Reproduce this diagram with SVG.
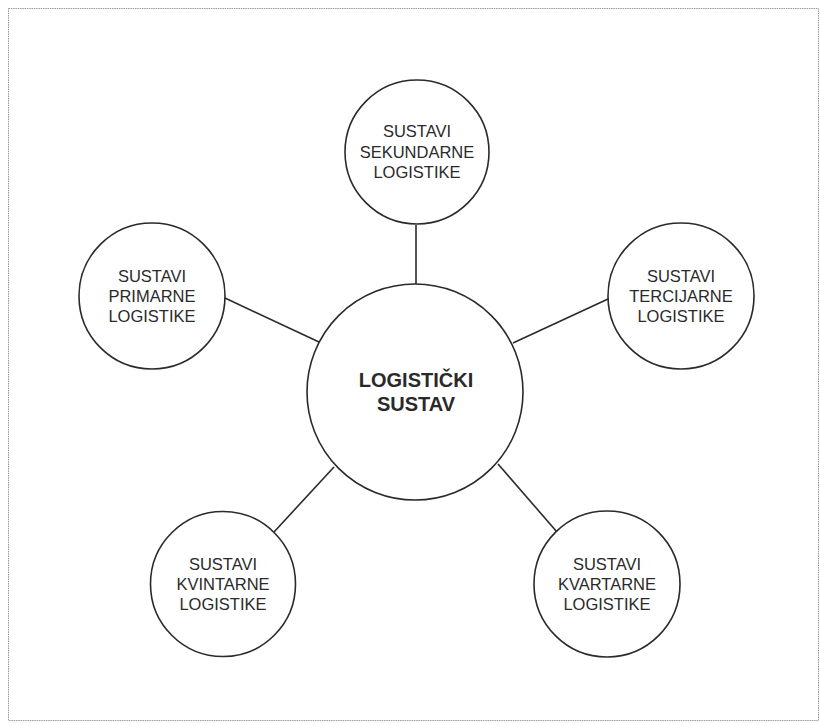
<svg xmlns="http://www.w3.org/2000/svg" width="820" height="723" viewBox="0 0 820 723">
<style>
.node circle{fill:#fff;stroke:#2a2a2a;stroke-width:1.6}
.lbl{font-family:"Liberation Sans",Arial,sans-serif;font-size:16.5px;fill:#2a2a2a;text-anchor:middle}
.main{font-family:"Liberation Sans",Arial,sans-serif;font-size:20px;font-weight:bold;fill:#2a2a2a;text-anchor:middle}
#connectors line{stroke:#2a2a2a;stroke-width:1.6}
</style>
<rect x="0" y="0" width="820" height="723" fill="#fff"/>
<rect x="8.5" y="8.5" width="810" height="712" fill="none" stroke="#9a9a9a" stroke-width="1" stroke-dasharray="1.5 0.8"/>
<g id="connectors">
<line x1="416" y1="225" x2="416" y2="284"/>
<line x1="225" y1="298" x2="319" y2="342"/>
<line x1="608" y1="299" x2="513" y2="343"/>
<line x1="334" y1="467" x2="274" y2="532"/>
<line x1="498" y1="464" x2="557" y2="532"/>
</g>
<g id="center" class="node">
<circle cx="415" cy="392" r="108"/>
<text class="main" x="416" y="387">LOGISTIČKI</text>
<text class="main" x="416" y="411">SUSTAV</text>
</g>
<g id="sekundarne" class="node">
<circle cx="417" cy="152" r="72"/>
<text class="lbl" x="417" y="137">SUSTAVI</text>
<text class="lbl" x="417" y="158">SEKUNDARNE</text>
<text class="lbl" x="417" y="178">LOGISTIKE</text>
</g>
<g id="primarne" class="node">
<circle cx="152" cy="296" r="73"/>
<text class="lbl" x="152" y="282">SUSTAVI</text>
<text class="lbl" x="152" y="302">PRIMARNE</text>
<text class="lbl" x="152" y="322">LOGISTIKE</text>
</g>
<g id="tercijarne" class="node">
<circle cx="681" cy="296" r="73"/>
<text class="lbl" x="681" y="282">SUSTAVI</text>
<text class="lbl" x="681" y="302">TERCIJARNE</text>
<text class="lbl" x="681" y="322">LOGISTIKE</text>
</g>
<g id="kvintarne" class="node">
<circle cx="223" cy="584" r="72.5"/>
<text class="lbl" x="223" y="570">SUSTAVI</text>
<text class="lbl" x="223" y="590">KVINTARNE</text>
<text class="lbl" x="223" y="610">LOGISTIKE</text>
</g>
<g id="kvartarne" class="node">
<circle cx="607" cy="584" r="73"/>
<text class="lbl" x="607" y="570">SUSTAVI</text>
<text class="lbl" x="607" y="590">KVARTARNE</text>
<text class="lbl" x="607" y="610">LOGISTIKE</text>
</g>
</svg>
